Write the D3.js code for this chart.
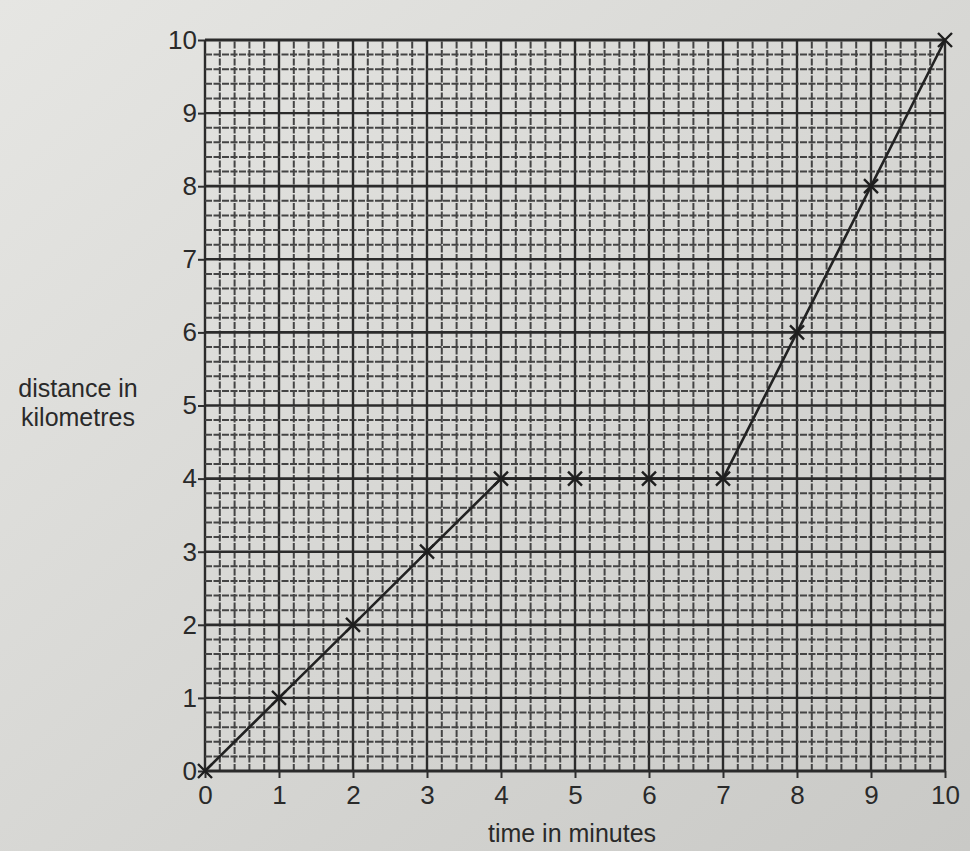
<!DOCTYPE html>
<html>
<head>
<meta charset="utf-8">
<script src="https://cdn.jsdelivr.net/npm/d3@7"></script>
<style>
  body { margin: 0; background: #d8d8d5; }
  svg { display: block; }
  .tick text { font-family: "Liberation Sans", Arial, sans-serif; font-size: 26px; fill: #2a2a2a; }
</style>
</head>
<body>
<script>
// values
var times = [0, 1, 2, 3, 4, 5, 6, 7, 8, 9, 10];
var distances = [0, 1, 2, 3, 4, 4, 4, 4, 6, 8, 10];
var xTicks = [0, 1, 2, 3, 4, 5, 6, 7, 8, 9, 10];
var yTicks = [0, 1, 2, 3, 4, 5, 6, 7, 8, 9, 10];

var W = 970, H = 851;
var margin = {top: 40, right: 25, bottom: 80, left: 205};

var svg = d3.select('body').append('svg')
    .attr('width', W)
    .attr('height', H);

// paper background, lighter top left like the photo
var defs = svg.append('defs');
var grad = defs.append('linearGradient')
    .attr('id', 'paper')
    .attr('x1', '0%').attr('y1', '0%')
    .attr('x2', '100%').attr('y2', '100%');
grad.append('stop').attr('offset', '0%').attr('stop-color', '#e6e6e3');
grad.append('stop').attr('offset', '100%').attr('stop-color', '#c9c9c6');
svg.append('rect').attr('width', W).attr('height', H).attr('fill', 'url(#paper)');

var x = d3.scaleLinear().domain([0, 10]).range([margin.left, W - margin.right]);
var y = d3.scaleLinear().domain([0, 10]).range([H - margin.bottom, margin.top]);

var g = svg.append('g');

// graph paper: fine lines every 0.2, stronger every 1
var fine = d3.range(0, 10.001, 0.2).map(function (v) { return Math.round(v * 10) / 10; });

g.selectAll('.vfine')
    .data(fine)
    .enter()
    .append('line')
    .attr('x1', d => x(d)).attr('x2', d => x(d))
    .attr('y1', y(0)).attr('y2', y(10))
    .attr('stroke', d => (d % 1 === 0) ? '#2b2b2b' : '#444')
    .attr('stroke-width', d => (d % 1 === 0) ? 2.4 : 2)
    .attr('stroke-dasharray', d => (d % 1 === 0) ? null : '7,1.5');

g.selectAll('.hfine')
    .data(fine)
    .enter()
    .append('line')
    .attr('y1', d => y(d)).attr('y2', d => y(d))
    .attr('x1', x(0)).attr('x2', x(10))
    .attr('stroke', d => (d % 1 === 0) ? '#2b2b2b' : '#444')
    .attr('stroke-width', d => (d % 2 === 0) ? 2.8 : (d % 1 === 0 ? 2.4 : 2))
    .attr('stroke-dasharray', d => (d % 1 === 0) ? null : '7,1.5');

// axes
var xAxis = d3.axisBottom(x).tickValues(xTicks).tickSize(7).tickPadding(8).tickFormat(d3.format('d'));
var yAxis = d3.axisLeft(y).tickValues(yTicks).tickSize(7).tickPadding(1).tickFormat(d3.format('d'));

var gx = svg.append('g')
    .attr('transform', 'translate(0,' + y(0) + ')')
    .call(xAxis);
gx.select('.domain').remove();
gx.selectAll('line').attr('stroke', '#2e2e2e').attr('stroke-width', 2);

var gy = svg.append('g')
    .attr('transform', 'translate(' + x(0) + ',0)')
    .call(yAxis);
gy.select('.domain').remove();
gy.selectAll('line').attr('stroke', '#2e2e2e').attr('stroke-width', 2);

// the travel line
var lineFn = d3.line()
    .x((d, i) => x(times[i]))
    .y(d => y(d));

svg.append('path')
    .datum(distances)
    .attr('d', lineFn)
    .attr('fill', 'none')
    .attr('stroke', '#222')
    .attr('stroke-width', 2.6);

// crosses at each plotted point
var s = 7;
svg.selectAll('.mark')
    .data(distances)
    .enter()
    .append('path')
    .attr('class', 'mark')
    .attr('d', (d, i) => {
        var cx = x(times[i]), cy = y(d);
        return 'M' + (cx - s) + ',' + (cy - s) + 'L' + (cx + s) + ',' + (cy + s)
            + 'M' + (cx - s) + ',' + (cy + s) + 'L' + (cx + s) + ',' + (cy - s);
    })
    .attr('stroke', '#1e1e1e')
    .attr('stroke-width', 2.4)
    .attr('fill', 'none');

// axis titles
svg.append('text')
    .attr('x', x(5) - 3)
    .attr('y', 842)
    .attr('text-anchor', 'middle')
    .style('font-family', '"Liberation Sans", Arial, sans-serif')
    .style('font-size', '25px')
    .attr('fill', '#2a2a2a')
    .text('time in minutes');

var yl = svg.append('text')
    .attr('text-anchor', 'middle')
    .style('font-family', '"Liberation Sans", Arial, sans-serif')
    .style('font-size', '25px')
    .attr('fill', '#2a2a2a');
yl.append('tspan').attr('x', 78).attr('y', 397).text('distance in');
yl.append('tspan').attr('x', 78).attr('y', 426).text('kilometres');
</script>
</body>
</html>
